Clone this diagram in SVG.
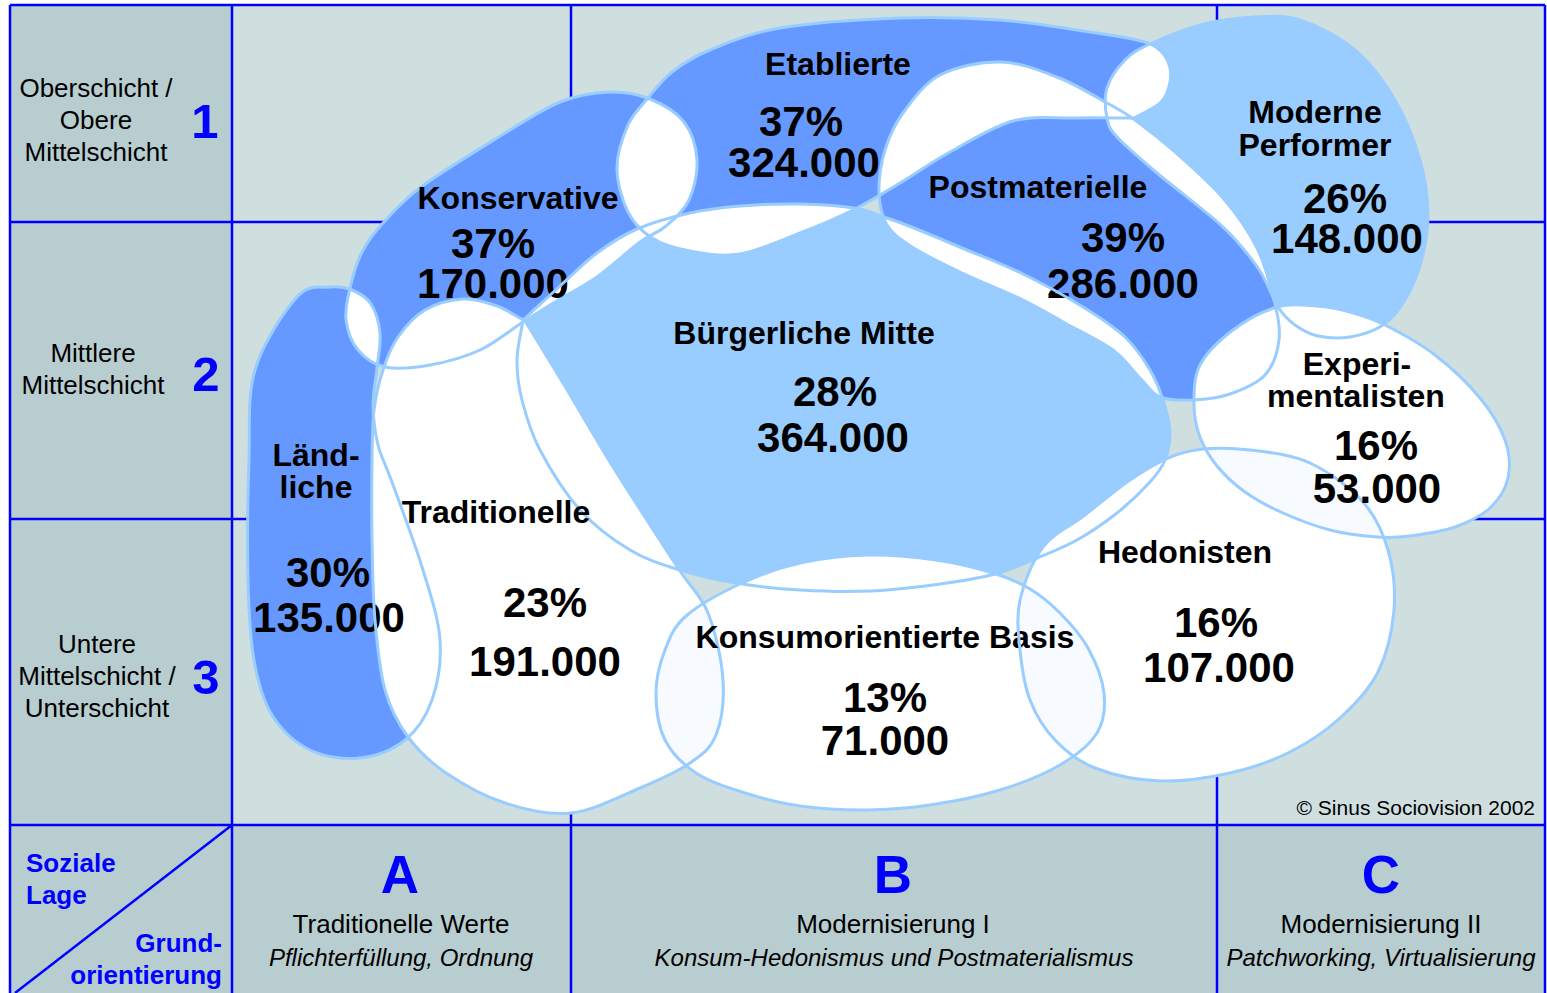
<svg xmlns="http://www.w3.org/2000/svg" width="1547" height="993" viewBox="0 0 1547 993">
<style>
.grid{stroke:#0000ff;stroke-width:2.5;fill:none}
.dark{fill:#6699ff}
.light{fill:#99ccff}
.white{fill:#ffffff}
.ov{fill:#ffffff}
.ovt{fill:#f7faff}
.outline{fill:none;stroke:#99ccff;stroke-width:3;stroke-linejoin:round}
text{font-family:"Liberation Sans",Arial,Helvetica,sans-serif}
.name{font-weight:bold;font-size:32px;fill:#000;text-anchor:middle}
.num{font-weight:bold;font-size:42px;fill:#000;text-anchor:middle}
.axis{font-size:26px;fill:#000;text-anchor:middle}
.digit{font-weight:bold;font-size:49px;fill:#0000ff;text-anchor:middle}
.letter{font-weight:bold;font-size:53px;fill:#0000ff;text-anchor:middle}
.sub{font-style:italic;font-size:24px;fill:#000;text-anchor:middle}
.corner{font-weight:bold;font-size:26px;fill:#0000ff}
.copy{font-size:21px;fill:#000;text-anchor:end}
</style>
<defs>
<path id="pL" d="M297,297 C309.5,283.2 320.8,288.2 330,287 S345.2,287.2 352,290 S366.3,296.8 371,304 S379,322.3 380,333 S378.2,356 377,368 S372.8,392.2 373,405 S374.8,432.2 378,445 S384.5,461.2 392,482 S415,543.7 423,570 S438.5,618.3 440,640 S437.8,683.3 432,700 S417,730.3 405,740 S375.8,756.3 360,758 S324.7,757.2 310,750 S281.3,730 272,715 S258,682.5 254,660 S248.8,613.3 248,580 S247.8,495 249,460 S247,397.2 255,370 S284.5,310.8 297,297 Z"/>
<path id="pK" d="M350,288 C352.7,276.7 356.5,262.8 362,252 S373.2,233.8 383,223 S402,201.2 421,187 S473.8,152.2 497,138 S541.2,109.7 560,102 S595,92.5 610,92 S637.7,94 650,99 S676.2,111.8 684,122 S696.2,147 697,160 S694.2,189 689,200 S674.2,219 666,226 S651.5,233.5 640,242 S611.2,267 597,277 S567.3,294.5 555,302 S535.5,314 523,322 S495.5,342.8 480,350 S445.8,362.2 430,365 S397,369.5 385,367 S364.5,357.8 358,350 S347.3,330.3 346,320 S347.3,299.3 350,288 Z"/>
<path id="pE" d="M648,98 C655.3,89.2 661.7,80 672,72 S692,57.3 710,50 S748.3,33.3 780,28 S863.3,19.3 900,18 S968.3,17.7 1000,20 S1065,28 1090,32 S1136.7,38 1150,44 S1167.8,58.7 1170,68 S1169,91.7 1163,100 C1157,108.3 1143.7,112 1134,118 C1114.3,118 1095.2,117.5 1075,118 S1033.8,115.3 1013,121 S968.8,141.7 950,152 S916.2,173.3 900,183 S869.7,201.7 853,210 S818.8,225.7 800,233 S758.3,251 740,254 S704.7,253.7 690,251 S662.3,244.5 652,238 S633.8,223.7 628,212 S617,182.5 617,168 S622.8,136.7 628,125 S640.7,106.8 648,98 Z"/>
<path id="pP" d="M879,192 C878.7,179.5 881,163.2 885,150 S893.8,125.5 903,113 S923.8,83.5 940,75 S980.5,61.7 1000,62 S1039.2,70.2 1057,77 S1094,95.8 1107,103 S1123.7,111.8 1135,120 S1160.3,139 1175,152 S1209.3,182 1223,198 S1248.5,231 1257,248 S1270.3,284.7 1274,300 S1280.5,327.5 1279,340 S1273.2,366 1265,375 S1242,389.8 1230,394 S1204.7,399.5 1193,400 S1168.8,400.7 1160,397 S1147.8,385.8 1140,378 S1125.5,359.2 1113,350 S1080,331.3 1065,323 S1040.5,308.5 1023,300 S978.5,280.8 960,272 S924.2,254.8 912,247 S892.5,234.2 887,225 S879.3,204.5 879,192 Z"/>
<path id="pMP" d="M1150,44 C1163.2,38 1186.5,28.5 1204,24 S1239,17.7 1255,17 S1283.3,14.5 1300,20 S1339.2,36.7 1355,50 S1384.2,81.7 1395,100 S1414.5,140.8 1420,160 S1427.8,198 1428,215 S1424.8,247.8 1421,262 S1411.3,289.5 1405,300 S1392.2,318.8 1383,325 S1360.8,335.2 1350,337 S1327.2,338 1318,336 S1301.7,329.8 1295,325 S1284.2,316.5 1278,307 S1267.2,281.3 1258,268 S1239.8,242.8 1223,227 S1174.7,188 1157,173 S1125.3,146.2 1117,137 S1108.7,126.2 1107,118 S1104,97.7 1107,88 S1117.8,67.3 1125,60 S1136.8,50 1150,44 Z"/>
<path id="pB" d="M523,320 C535.3,308.7 547.7,297.2 560,286 S584.2,262.5 597,253 S621.5,235.7 637,229 S672.8,216.8 690,213 S721.7,207.5 740,206 S781,203.7 800,204 S840,205.8 854,208 S874,213.7 884,217 S901,222.8 914,228 S943.8,240.3 962,248 S1002.8,264.2 1023,274 S1066,296.5 1083,307 S1113.8,326.5 1125,337 S1143.7,359.5 1150,370 S1159.7,389.7 1163,400 S1169.7,422 1170,432 S1168.3,451.7 1165,460 S1158,473.2 1150,482 S1129.2,503.3 1117,513 S1090.3,532.5 1077,540 S1050.7,552.3 1037,558 S1011.2,569.7 995,574 S960.8,581.2 940,584 S893.3,590 870,591 S822.3,591.3 800,590 S756,586.3 736,583 S697.7,575.5 680,570 S646.7,560 630,550 S595,526.7 580,510 S549.7,468.3 540,450 S525.8,415 522,400 S516.8,373.3 517,360 S521,333.3 523,320 Z"/>
<path id="pT" d="M383,370 C387,357.8 391,347 398,337 S414.2,316.3 425,310 S451,299.7 463,299 S486.7,302.3 497,306 S515.7,316 525,321 C537.7,341.7 548.3,358.7 563,383 S593.8,436.2 613,467 S662.2,543.7 678,568 S700.5,594.3 708,613 S721.7,659.7 723,680 S721.5,721.2 716,735 S702.7,754.2 690,763 S659.8,779.7 640,788 S593.5,810.5 571,813 S525.8,809.7 505,803 S462.2,784 446,773 S418.2,750.8 408,737 S390.5,709.5 385,690 S377.2,645 375,620 S372.5,566.7 372,540 S371.7,481.7 372,460 S372.2,425 374,410 S379,382.2 383,370 Z"/>
<path id="pKB" d="M656,693 C656,678 660,662.8 665,650 S673.2,627.2 686,616 S723,591.8 742,583 S779,567.7 800,563 S845.3,555.5 868,555 S915.2,557 936,560 S977.3,568.2 993,573 S1018.8,582.3 1030,589 S1050.3,603.2 1060,613 S1080.7,634.7 1088,648 S1102.5,678.8 1104,693 S1104.3,721 1097,733 S1076.2,755.5 1060,765 S1021.7,783.3 1000,790 S952.2,801.7 930,805 S888.7,809.8 867,810 S820.3,808.8 800,806 S762.3,798.5 745,793 S709.3,781.8 696,773 S671.7,753.3 665,740 S656,708 656,693 Z"/>
<path id="pH" d="M1020,600 C1016.2,617.2 1018.3,633.3 1020,650 S1024.2,685 1030,700 S1044.2,728.7 1055,740 S1077.5,761.2 1095,768 S1137.5,780.2 1160,781 S1208.3,777.8 1230,773 S1271.7,761.2 1290,752 S1325.3,731.3 1340,718 S1369,690 1378,672 S1392.3,630.3 1394,610 S1393.2,568 1388,550 S1376,516.5 1363,502 S1328.8,471.7 1310,463 S1267.8,452.3 1250,450 S1216.7,447.7 1203,449 S1180.2,452.8 1168,458 S1143.8,470.5 1130,480 S1099.5,503.8 1085,515 S1053.8,532.8 1043,547 S1023.8,582.8 1020,600 Z"/>
<path id="pX" d="M1277,307 C1291,303 1304.8,305.2 1317,306 S1338.7,308.8 1350,312 S1370.8,317.8 1385,325 S1419.2,342.8 1435,355 S1468.3,383.8 1480,398 S1500.3,426.7 1505,440 S1510.5,466.7 1508,478 S1498.8,499.8 1490,508 S1468.3,522.3 1455,527 S1423,534.3 1410,536 S1390.3,538 1377,537 S1345.7,534 1330,530 S1297.2,519.3 1283,513 S1256,499.8 1245,492 S1224.5,475.2 1217,466 S1203.8,447.2 1200,437 S1194,417 1194,405 S1193.5,377.5 1200,365 S1220.2,339.7 1233,330 S1263,311 1277,307 Z"/>
<clipPath id="cK"><use href="#pK"/></clipPath>
<clipPath id="cE"><use href="#pE"/></clipPath>
<clipPath id="cP"><use href="#pP"/></clipPath>
<clipPath id="cMP"><use href="#pMP"/></clipPath>
<clipPath id="cB"><use href="#pB"/></clipPath>
<clipPath id="cT"><use href="#pT"/></clipPath>
<clipPath id="cKB"><use href="#pKB"/></clipPath>
<clipPath id="cH"><use href="#pH"/></clipPath>
<clipPath id="cX"><use href="#pX"/></clipPath>
</defs>

<g id="grid">
<rect x="10" y="5" width="1535" height="990" fill="#cfdfe0"/>
<rect x="10" y="5" width="222" height="820" fill="#b8cdd0"/>
<rect x="10" y="825" width="1535" height="170" fill="#b8cdd0"/>
<path class="grid" d="M10,5 H1545 M10,5 V995 M1545,5 V995 M232,5 V995 M571,5 V995 M1217,5 V995 M10,222 H1545 M10,519 H1545 M10,825 H1545 M232,825 L15,993"/>
</g>

<g id="milieu-fills">
<use href="#pL" class="dark"/>
<use href="#pK" class="dark"/>
<use href="#pE" class="dark"/>
<use href="#pP" class="dark"/>
<use href="#pMP" class="light"/>
<use href="#pB" class="light"/>
<use href="#pT" class="white"/>
<use href="#pKB" class="white"/>
<use href="#pH" class="white"/>
<use href="#pX" class="white"/>
</g>

<g id="overlaps">
<use href="#pL" class="ov" clip-path="url(#cK)"/>
<use href="#pL" class="ov" clip-path="url(#cT)"/>
<use href="#pK" class="ov" clip-path="url(#cE)"/>
<use href="#pK" class="ov" clip-path="url(#cT)"/>
<use href="#pK" class="ov" clip-path="url(#cB)"/>
<use href="#pE" class="ov" clip-path="url(#cB)"/>
<use href="#pE" class="ov" clip-path="url(#cP)"/>
<use href="#pE" class="ov" clip-path="url(#cMP)"/>
<use href="#pP" class="ov" clip-path="url(#cB)"/>
<use href="#pP" class="ov" clip-path="url(#cMP)"/>
<use href="#pP" class="ov" clip-path="url(#cX)"/>
<use href="#pMP" class="ov" clip-path="url(#cX)"/>
<use href="#pB" class="ov" clip-path="url(#cT)"/>
<use href="#pB" class="ov" clip-path="url(#cKB)"/>
<use href="#pB" class="ov" clip-path="url(#cH)"/>
<use href="#pT" class="ovt" clip-path="url(#cKB)"/>
<use href="#pKB" class="ovt" clip-path="url(#cH)"/>
<use href="#pH" class="ovt" clip-path="url(#cX)"/>
</g>

<g id="axis-social">
<text class="axis" x="96" y="97">Oberschicht /</text>
<text class="axis" x="96" y="129">Obere</text>
<text class="axis" x="96" y="161">Mittelschicht</text>
<text class="digit" x="205" y="138">1</text>
<text class="axis" x="93" y="362">Mittlere</text>
<text class="axis" x="93" y="394">Mittelschicht</text>
<text class="digit" x="206" y="391">2</text>
<text class="axis" x="97" y="653">Untere</text>
<text class="axis" x="97" y="685">Mittelschicht /</text>
<text class="axis" x="97" y="717">Unterschicht</text>
<text class="digit" x="206" y="694">3</text>
</g>

<g id="axis-values">
<text class="corner" x="26" y="872">Soziale</text>
<text class="corner" x="26" y="904">Lage</text>
<text class="corner" x="222" y="952" text-anchor="end">Grund-</text>
<text class="corner" x="222" y="984" text-anchor="end">orientierung</text>
<text class="letter" x="400" y="893">A</text>
<text class="axis" x="401" y="933">Traditionelle Werte</text>
<text class="sub" x="401" y="966">Pflichterfüllung, Ordnung</text>
<text class="letter" x="893" y="893">B</text>
<text class="axis" x="893" y="933">Modernisierung I</text>
<text class="sub" x="894" y="966">Konsum-Hedonismus und Postmaterialismus</text>
<text class="letter" x="1381" y="893">C</text>
<text class="axis" x="1381" y="933">Modernisierung II</text>
<text class="sub" x="1381" y="966">Patchworking, Virtualisierung</text>
<text class="copy" x="1535" y="815">© Sinus Sociovision 2002</text>
</g>

<g id="laendliche">
<use href="#pL" class="outline"/>
<text class="name" x="316" y="466">Länd-</text>
<text class="name" x="316" y="498">liche</text>
<text class="num" x="328" y="587">30%</text>
<text class="num" x="329" y="632">135.000</text>
</g>
<g id="konservative">
<use href="#pK" class="outline"/>
<text class="name" x="518" y="209">Konservative</text>
<text class="num" x="493" y="258">37%</text>
<text class="num" x="493" y="298">170.000</text>
</g>
<g id="etablierte">
<use href="#pE" class="outline"/>
<text class="name" x="838" y="75">Etablierte</text>
<text class="num" x="801" y="136">37%</text>
<text class="num" x="804" y="177">324.000</text>
</g>
<g id="postmaterielle">
<use href="#pP" class="outline"/>
<text class="name" x="1038" y="198">Postmaterielle</text>
<text class="num" x="1123" y="252">39%</text>
<text class="num" x="1123" y="298">286.000</text>
</g>
<g id="moderne-performer">
<use href="#pMP" class="outline"/>
<text class="name" x="1315" y="123">Moderne</text>
<text class="name" x="1315" y="156">Performer</text>
<text class="num" x="1345" y="213">26%</text>
<text class="num" x="1347" y="253">148.000</text>
</g>
<g id="buergerliche-mitte">
<use href="#pB" class="outline"/>
<text class="name" x="804" y="344">Bürgerliche Mitte</text>
<text class="num" x="835" y="406">28%</text>
<text class="num" x="833" y="452">364.000</text>
</g>
<g id="traditionelle">
<use href="#pT" class="outline"/>
<text class="name" x="496" y="523">Traditionelle</text>
<text class="num" x="545" y="617">23%</text>
<text class="num" x="545" y="676">191.000</text>
</g>
<g id="konsumorientierte-basis">
<use href="#pKB" class="outline"/>
<text class="name" x="885" y="648">Konsumorientierte Basis</text>
<text class="num" x="885" y="712">13%</text>
<text class="num" x="885" y="755">71.000</text>
</g>
<g id="hedonisten">
<use href="#pH" class="outline"/>
<text class="name" x="1185" y="563">Hedonisten</text>
<text class="num" x="1216" y="637">16%</text>
<text class="num" x="1219" y="682">107.000</text>
</g>
<g id="experimentalisten">
<use href="#pX" class="outline"/>
<text class="name" x="1357" y="375">Experi-</text>
<text class="name" x="1356" y="407">mentalisten</text>
<text class="num" x="1376" y="460">16%</text>
<text class="num" x="1377" y="503">53.000</text>
</g>
</svg>
